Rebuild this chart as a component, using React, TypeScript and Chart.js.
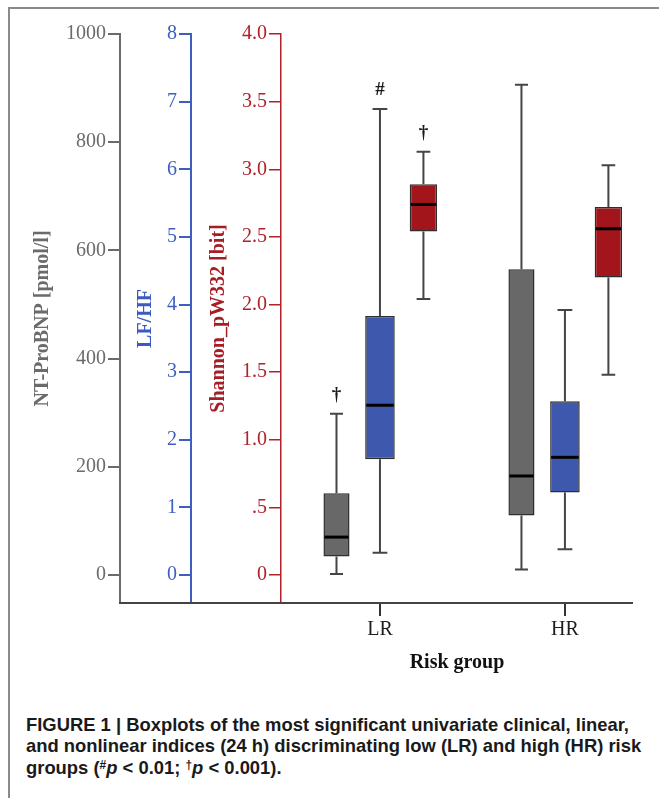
import React, { useEffect, useRef } from 'react';
import { Chart, registerables } from 'chart.js';

Chart.register(...registerables);

// ---- Data ----
const groups = ['LR', 'HR'];
const seriesNames = ['NT-ProBNP [pmol/l]', 'LF/HF', 'Shannon_pW332 [bit]'];

const bnpMin = [2, 10];
const bnpQ1 = [34, 110];
const bnpMedian = [70, 183];
const bnpQ3 = [151, 565];
const bnpMax = [298, 906];
const bnpMarks = ['†', ''];

const lfhfMin = [0.33, 0.38];
const lfhfQ1 = [1.71, 1.22];
const lfhfMedian = [2.51, 1.74];
const lfhfQ3 = [3.83, 2.57];
const lfhfMax = [6.89, 3.92];
const lfhfMarks = ['#', ''];

const shMin = [2.04, 1.48];
const shQ1 = [2.54, 2.2];
const shMedian = [2.74, 2.56];
const shQ3 = [2.89, 2.72];
const shMax = [3.13, 3.03];
const shMarks = ['†', ''];

const bnpTicks = [0, 200, 400, 600, 800, 1000];
const lfhfTicks = [0, 1, 2, 3, 4, 5, 6, 7, 8];
const shTicks = [0, 0.5, 1, 1.5, 2, 2.5, 3, 3.5, 4];
const shTickLabels = ['0', '.5', '1.0', '1.5', '2.0', '2.5', '3.0', '3.5', '4.0'];

const SERIF = '"Liberation Serif", "DejaVu Serif", "Times New Roman", serif';
const SANS = '"Liberation Sans", Arial, Helvetica, sans-serif';

const GRAY = '#6b6b6b';
const BLUE = '#3f5fbf';
const RED = '#b0212a';

const stats = [
  { min: bnpMin, q1: bnpQ1, med: bnpMedian, q3: bnpQ3, max: bnpMax, marks: bnpMarks },
  { min: lfhfMin, q1: lfhfQ1, med: lfhfMedian, q3: lfhfQ3, max: lfhfMax, marks: lfhfMarks },
  { min: shMin, q1: shQ1, med: shMedian, q3: shQ3, max: shMax, marks: shMarks },
];

const boxPlotPlugin = {
  id: 'boxPlotExtras',
  beforeDatasetsDraw(chart: any) {
    const ctx = chart.ctx;
    const area = chart.chartArea;
    const left = chart.scales.yBnp.right;
    ctx.save();
    ctx.strokeStyle = '#444';
    ctx.lineWidth = 2;
    ctx.beginPath();
    ctx.moveTo(left - 1, area.bottom);
    ctx.lineTo(area.right, area.bottom);
    ctx.stroke();
    // whiskers
    stats.forEach((s, d) => {
      const meta = chart.getDatasetMeta(d);
      const ys = chart.scales[meta.yAxisID];
      meta.data.forEach((el: any, i: number) => {
        const x = el.x;
        const w = el.width;
        const capW = w * 0.5;
        ctx.strokeStyle = '#454545';
        ctx.lineWidth = 2;
        ctx.beginPath();
        ctx.moveTo(x, ys.getPixelForValue(s.q3[i]));
        ctx.lineTo(x, ys.getPixelForValue(s.max[i]));
        ctx.moveTo(x, ys.getPixelForValue(s.q1[i]));
        ctx.lineTo(x, ys.getPixelForValue(s.min[i]));
        ctx.moveTo(x - capW / 2, ys.getPixelForValue(s.max[i]));
        ctx.lineTo(x + capW / 2, ys.getPixelForValue(s.max[i]));
        ctx.moveTo(x - capW / 2, ys.getPixelForValue(s.min[i]));
        ctx.lineTo(x + capW / 2, ys.getPixelForValue(s.min[i]));
        ctx.stroke();
      });
    });
    ctx.restore();
  },
  afterDatasetsDraw(chart: any) {
    const ctx = chart.ctx;
    ctx.save();
    stats.forEach((s, d) => {
      const meta = chart.getDatasetMeta(d);
      const ys = chart.scales[meta.yAxisID];
      meta.data.forEach((el: any, i: number) => {
        const x = el.x;
        const w = el.width;
        const my = ys.getPixelForValue(s.med[i]);
        ctx.strokeStyle = '#000';
        ctx.lineWidth = 3;
        ctx.beginPath();
        ctx.moveTo(x - w / 2 + 1, my);
        ctx.lineTo(x + w / 2 - 1, my);
        ctx.stroke();
        const mark = s.marks[i];
        if (mark) {
          ctx.fillStyle = '#1a1a1a';
          ctx.font = `bold 19px ${SERIF}`;
          ctx.textAlign = 'center';
          ctx.textBaseline = 'middle';
          ctx.fillText(mark, x, ys.getPixelForValue(s.max[i]) - 19);
        }
      });
    });
    ctx.restore();
  },
};

const fillColors = ['#686868', '#3e58ad', '#a2161b'];
const barPcts = [0.6, 0.68, 0.63];
const axisIds = ['yBnp', 'yLfhf', 'ySh'];

function yAxis(opts: {
  color: string;
  titleColor: string;
  title: string;
  min: number;
  max: number;
  ticks: number[];
  labels?: string[];
  weight: number;
  width: number;
  titlePad: number;
  borderWidth: number;
}) {
  return {
    type: 'linear',
    position: 'left',
    weight: opts.weight,
    min: opts.min,
    max: opts.max,
    afterBuildTicks: (scale: any) => {
      scale.ticks = opts.ticks.map((v) => ({ value: v }));
    },
    afterFit: (scale: any) => {
      scale.width = opts.width;
    },
    ticks: {
      color: opts.color,
      font: { family: SERIF, size: 20 },
      padding: 2,
      callback: (v: number) => {
        const idx = opts.ticks.indexOf(v);
        if (opts.labels && idx >= 0) return opts.labels[idx];
        return String(v);
      },
    },
    grid: {
      display: true,
      drawOnChartArea: false,
      drawTicks: true,
      tickLength: 12,
      color: opts.color,
      lineWidth: opts.borderWidth,
    },
    border: { display: true, color: opts.color, width: opts.borderWidth },
    title: {
      display: true,
      text: opts.title,
      color: opts.titleColor,
      font: { family: SERIF, size: 20, weight: 'bold' },
      padding: { top: opts.titlePad, bottom: 0 },
    },
  };
}

function BoxChart() {
  const ref = useRef<HTMLCanvasElement | null>(null);
  useEffect(() => {
    if (!ref.current) return;
    const datasets = stats.map((s, d) => ({
      label: seriesNames[d],
      yAxisID: axisIds[d],
      data: groups.map((_, i) => ({ x: i, y: [s.q1[i], s.q3[i]] })),
      backgroundColor: fillColors[d],
      borderColor: '#2e2e2e',
      borderWidth: 1.5,
      borderSkipped: false,
      categoryPercentage: 0.705,
      barPercentage: barPcts[d],
    }));
    const chart = new Chart(ref.current, {
      type: 'bar',
      data: { datasets } as any,
      plugins: [boxPlotPlugin],
      options: {
        responsive: false,
        animation: false,
        devicePixelRatio: 1,
        layout: { padding: { left: 20, top: 34, right: 26, bottom: 17 } },
        plugins: {
          legend: { display: false },
          tooltip: { enabled: false },
          title: { display: false },
        },
        scales: {
          x: {
            type: 'linear',
            offset: false,
            min: -0.535,
            max: 1.368,
            afterBuildTicks: (scale: any) => {
              scale.ticks = groups.map((_, i) => ({ value: i }));
            },
            afterFit: (scale: any) => {
              scale.height = 80;
            },
            ticks: {
              color: '#1e1e1e',
              font: { family: SERIF, size: 20 },
              padding: 2,
              callback: (v: number) => groups[v] ?? '',
            },
            grid: {
              display: true,
              offset: false,
              drawOnChartArea: false,
              drawTicks: true,
              tickLength: 13,
              color: '#333',
              lineWidth: 2,
            },
            border: { display: false },
            title: {
              display: true,
              text: 'Risk group',
              color: '#111',
              font: { family: SERIF, size: 20, weight: 'bold' },
              padding: { top: 4, bottom: 8 },
            },
          },
          yBnp: yAxis({
            color: GRAY,
            titleColor: '#6b6b6b',
            title: seriesNames[0],
            min: -51.8,
            max: 1000,
            ticks: bnpTicks,
            weight: 3,
            width: 100,
            titlePad: 11,
            borderWidth: 2,
          }),
          yLfhf: yAxis({
            color: BLUE,
            titleColor: '#3a5bbf',
            title: seriesNames[1],
            min: -0.414,
            max: 8,
            ticks: lfhfTicks,
            weight: 2,
            width: 71,
            titlePad: 13.5,
            borderWidth: 2,
          }),
          ySh: yAxis({
            color: RED,
            titleColor: '#a51e26',
            title: seriesNames[2],
            min: -0.207,
            max: 4,
            ticks: shTicks,
            labels: shTickLabels,
            weight: 1,
            width: 90,
            titlePad: 16,
            borderWidth: 1.5,
          }),
        } as any,
      },
    });
    return () => chart.destroy();
  }, []);
  return (
    <canvas
      ref={ref}
      width={659}
      height={700}
      style={{ position: 'absolute', left: 0, top: 0, width: 659, height: 700 }}
    />
  );
}

export default function App() {
  const lineStyle: React.CSSProperties = {
    whiteSpace: 'nowrap',
    height: 21.7,
    lineHeight: '21.7px',
  };
  return (
    <div style={{ position: 'absolute', left: 0, top: 0, width: 659, height: 798, overflow: 'hidden', background: '#fff' }}>
      <div
        style={{
          position: 'absolute',
          left: 8,
          top: 7,
          width: 700,
          height: 900,
          borderLeft: '2px solid #8a8a8a',
          borderTop: '2px solid #8a8a8a',
        }}
      />
      <BoxChart />
      <div
        style={{
          position: 'absolute',
          left: 26,
          top: 713.5,
          fontFamily: SANS,
          fontWeight: 'bold',
          fontSize: 18.4,
          color: '#1a1a1a',
        }}
      >
        <div style={lineStyle}>FIGURE 1 | Boxplots of the most significant univariate clinical, linear,</div>
        <div style={lineStyle}>and nonlinear indices (24 h) discriminating low (LR) and high (HR) risk</div>
        <div style={lineStyle}>
          groups (<sup style={{ fontSize: '0.65em', verticalAlign: '0.45em', lineHeight: 0 }}>#</sup>
          <i>p</i> &lt; 0.01; <sup style={{ fontSize: '0.65em', verticalAlign: '0.45em', lineHeight: 0 }}>†</sup>
          <i>p</i> &lt; 0.001).
        </div>
      </div>
    </div>
  );
}
